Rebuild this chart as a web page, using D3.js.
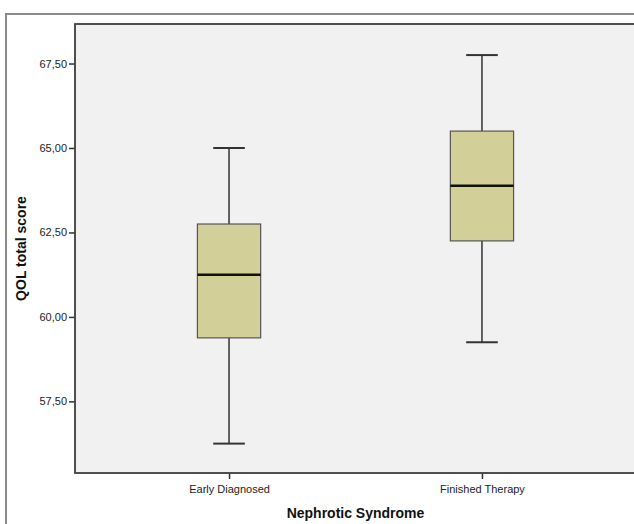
<!DOCTYPE html>
<html>
<head>
<meta charset="utf-8">
<script src="https://cdn.jsdelivr.net/npm/d3@7"></script>
<style>
  html, body { margin: 0; padding: 0; background: #ffffff; }
  svg { display: block; }
</style>
</head>
<body>
<svg id="chart" width="634" height="524"></svg>
<script>
// ---- Data ----
const categories = ["Early Diagnosed", "Finished Therapy"];
const whiskerLow  = [56.25, 59.25];
const quartile1   = [59.38, 62.25];
const medians     = [61.25, 63.88];
const quartile3   = [62.75, 65.50];
const whiskerHigh = [65.00, 67.75];
const yTicks = [57.5, 60.0, 62.5, 65.0, 67.5];
const xTitle = "Nephrotic Syndrome";
const yTitle = "QOL total score";

// ---- Layout ----
const W = 634, H = 524;
const plot = { left: 75, right: 636, top: 24, bottom: 473 };

const svg = d3.select("#chart");

// outer frame
svg.append("rect")
  .attr("x", 6).attr("y", 14)
  .attr("width", 700).attr("height", 600)
  .attr("fill", "#ffffff")
  .attr("stroke", "#8a8a8a").attr("stroke-width", 2);

// plot background
svg.append("rect")
  .attr("x", plot.left).attr("y", plot.top)
  .attr("width", plot.right - plot.left).attr("height", plot.bottom - plot.top)
  .attr("fill", "#f1f1f1")
  .attr("stroke", "#444").attr("stroke-width", 1.5);

const y = d3.scaleLinear().domain([55.38, 68.67]).range([plot.bottom, plot.top]);
const x = d3.scalePoint().domain(categories).range([plot.left, plot.right]).padding(0.609);

const fmt = v => d3.format(".2f")(v).replace(".", ",");

// y axis
const yAxis = svg.append("g")
  .attr("transform", `translate(${plot.left},0)`)
  .call(d3.axisLeft(y).tickValues(yTicks).tickFormat(fmt).tickSize(6).tickPadding(2));
yAxis.select(".domain").remove();
yAxis.selectAll("line").attr("stroke", "#333").attr("stroke-width", 1.5);
yAxis.selectAll("text")
  .attr("font-family", "Liberation Sans, Arial, sans-serif")
  .attr("font-size", 11).attr("fill", "#222");

// x axis
const xAxis = svg.append("g")
  .attr("transform", `translate(0,${plot.bottom})`)
  .call(d3.axisBottom(x).tickSize(6).tickPadding(6));
xAxis.select(".domain").remove();
xAxis.selectAll("line").attr("stroke", "#333").attr("stroke-width", 1.5);
xAxis.selectAll("text")
  .attr("font-family", "Liberation Sans, Arial, sans-serif")
  .attr("font-size", 11).attr("fill", "#222");

// redraw plot border on top of ticks
svg.append("rect")
  .attr("x", plot.left).attr("y", plot.top)
  .attr("width", plot.right - plot.left).attr("height", plot.bottom - plot.top)
  .attr("fill", "none")
  .attr("stroke", "#444").attr("stroke-width", 1.5);

// boxes
const step = x.step();
const boxW = step * 0.25;
const capW = boxW * 0.5;

const g = svg.append("g");
categories.forEach((c, i) => {
  const cx = x(c);
  // whisker vertical lines
  g.append("line")
    .attr("x1", cx).attr("x2", cx)
    .attr("y1", y(whiskerHigh[i])).attr("y2", y(quartile3[i]))
    .attr("stroke", "#333").attr("stroke-width", 1.5);
  g.append("line")
    .attr("x1", cx).attr("x2", cx)
    .attr("y1", y(quartile1[i])).attr("y2", y(whiskerLow[i]))
    .attr("stroke", "#333").attr("stroke-width", 1.5);
  // caps
  [whiskerHigh[i], whiskerLow[i]].forEach(v => {
    g.append("line")
      .attr("x1", cx - capW / 2).attr("x2", cx + capW / 2)
      .attr("y1", y(v)).attr("y2", y(v))
      .attr("stroke", "#333").attr("stroke-width", 2);
  });
  // box
  g.append("rect")
    .attr("x", cx - boxW / 2).attr("width", boxW)
    .attr("y", y(quartile3[i])).attr("height", y(quartile1[i]) - y(quartile3[i]))
    .attr("fill", "#d3cf98")
    .attr("stroke", "#555").attr("stroke-width", 1.2);
  // median
  g.append("line")
    .attr("x1", cx - boxW / 2).attr("x2", cx + boxW / 2)
    .attr("y1", y(medians[i])).attr("y2", y(medians[i]))
    .attr("stroke", "#111").attr("stroke-width", 2.5);
});

// axis titles
svg.append("text")
  .attr("x", (plot.left + plot.right) / 2).attr("y", 518)
  .attr("text-anchor", "middle")
  .attr("font-family", "Liberation Sans, Arial, sans-serif")
  .attr("font-size", 14).attr("font-weight", "bold").attr("fill", "#111")
  .text(xTitle);

svg.append("text")
  .attr("transform", `translate(26,${(plot.top + plot.bottom) / 2}) rotate(-90)`)
  .attr("text-anchor", "middle")
  .attr("font-family", "Liberation Sans, Arial, sans-serif")
  .attr("font-size", 14).attr("font-weight", "bold").attr("fill", "#111")
  .text(yTitle);
</script>
</body>
</html>
